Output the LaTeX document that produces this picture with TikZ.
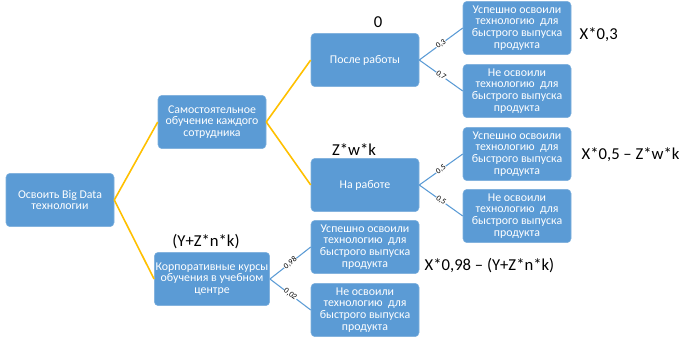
\documentclass[tikz,border=0pt]{standalone}
\usepackage{fontspec}
\setmainfont{Carlito}
\usetikzlibrary{positioning}

\definecolor{boxblue}{HTML}{5B9BD5}
\definecolor{branchyellow}{HTML}{FFC000}

\begin{document}
\begin{tikzpicture}[x=0.75pt, y=-0.75pt,
    box/.style={fill=boxblue, draw=boxblue!80!white, line width=0.4pt,
      rounded corners=3pt, text=white, align=center,
      minimum width=81pt, minimum height=40pt, inner sep=1pt,
      font=\fontsize{8.9}{8.8}\selectfont},
    yline/.style={draw=branchyellow, line width=1.2pt},
    bline/.style={draw=boxblue, line width=0.8pt},
    prob/.style={midway, sloped, fill=white, inner sep=0.4pt,
      font=\fontsize{6}{7}\selectfont},
    cost/.style={font=\fontsize{12.5}{14}\selectfont}]
    \useasboundingbox (0,0) rectangle (686,343);
    % Root and first level
    \node[box] (goal)   at (60, 200)  {Освоить Big Data\\технологии};
    \node[box] (self)   at (212, 122) {Самостоятельное\\обучение каждого\\сотрудника};
    \node[box] (course) at (212, 279) {Корпоративные курсы\\обучения в учебном\\центре};
    % Second level under self-study
    \node[box] (after) at (365, 60)  {После работы};
    \node[box] (work)  at (365, 185) {На работе};
    % Outcome boxes
    \node[box] (afterok) at (517, 28)  {Успешно освоили\\технологию\ \ для\\быстрого выпуска\\продукта};
    \node[box] (afterno) at (517, 91)  {Не освоили\\технологию\ \ для\\быстрого выпуска\\продукта};
    \node[box] (workok)  at (517, 154) {Успешно освоили\\технологию\ \ для\\быстрого выпуска\\продукта};
    \node[box] (workno)  at (517, 216) {Не освоили\\технологию\ \ для\\быстрого выпуска\\продукта};
    \node[box] (courseok) at (365, 247) {Успешно освоили\\технологию\ \ для\\быстрого выпуска\\продукта};
    \node[box] (courseno) at (365, 310) {Не освоили\\технологию\ \ для\\быстрого выпуска\\продукта};
    % Decision branches
    \draw[yline] (goal.east) -- (self.west);
    \draw[yline] (goal.east) -- (course.west);
    \draw[yline] (self.east) -- (after.west);
    \draw[yline] (self.east) -- (work.west);
    % Chance branches with probabilities
    \draw[bline] (after.east) -- (afterok.west) node[prob] {0,3};
    \draw[bline] (after.east) -- (afterno.west) node[prob] {0,7};
    \draw[bline] (work.east) -- (workok.west) node[prob] {0,5};
    \draw[bline] (work.east) -- (workno.west) node[prob] {0,5};
    \draw[bline] (course.east) -- (courseok.west) node[prob] {0,98};
    \draw[bline] (course.east) -- (courseno.west) node[prob] {0,02};
    % Costs and payoffs
    \node[cost] (costafter)  at (378, 22)  {0};
    \node[cost] (costwork)   at (354, 150) {Z*w*k};
    \node[cost] (costcourse) at (206, 242) {(Y+Z*n*k)};
    \node[cost, anchor=west] (payafter)  at (575, 35)  {X*0,3};
    \node[cost, anchor=west] (paywork)   at (577, 155) {X*0,5 – Z*w*k};
    \node[cost, anchor=west] (paycourse) at (420, 266) {X*0,98 – (Y+Z*n*k)};
\end{tikzpicture}
\end{document}
